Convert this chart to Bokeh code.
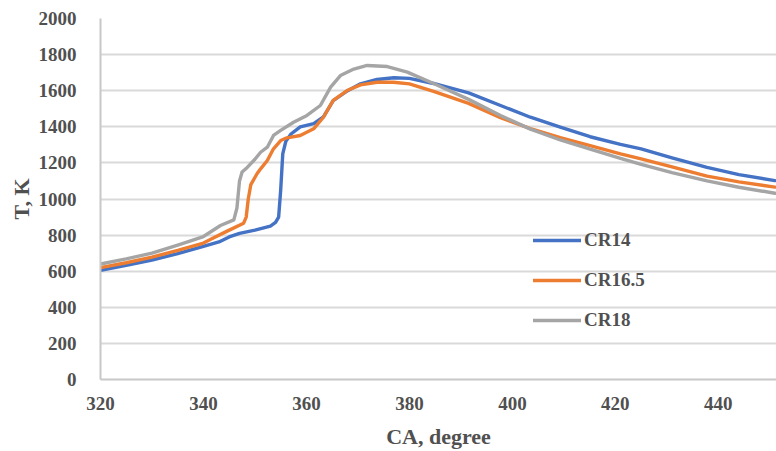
from bokeh.plotting import figure
from bokeh.models import Range1d, FixedTicker, Legend, LegendItem
from bokeh.embed import file_html
from bokeh.resources import INLINE

# ---- data ----
ca_cr14 = [320, 325, 330, 335, 340, 343, 345, 347, 350, 353, 354, 354.6, 355, 355.4, 356, 357,
           358.8, 361.4, 363.3, 365.2, 368, 370.5, 373.7, 377, 380, 384.7, 391.5, 397.7, 403.5,
           409.3, 415.1, 421, 425, 431, 437.8, 444, 451]
t_cr14 = [605, 632, 662, 697, 737, 762, 790, 810, 828, 850, 870, 900, 1050, 1250, 1320, 1360,
          1400, 1418, 1455, 1545, 1600, 1638, 1662, 1672, 1668, 1640, 1588, 1518, 1453,
          1398, 1345, 1303, 1278, 1228, 1175, 1135, 1102]

ca_cr165 = [320, 325, 330, 335, 340, 342, 344.6, 347.8, 348.3, 348.7, 349.2, 350.4, 351.1, 352.4,
            353.6, 355, 356.2, 358.8, 361.4, 363.3, 365.2, 367.9, 370.5, 373.7, 376.9, 380,
            384.7, 391.5, 397.7, 403.5, 409.3, 415.1, 421, 425, 431, 437.8, 444, 451]
t_cr165 = [620, 647, 678, 715, 756, 785, 822, 866, 900, 1000, 1080, 1140, 1167, 1213,
           1278, 1324, 1339, 1352, 1389, 1453, 1546, 1601, 1632, 1647, 1647, 1638,
           1596, 1530, 1450, 1390, 1340, 1296, 1250, 1222, 1178, 1127, 1095, 1066]

ca_cr18 = [320, 325, 330, 335, 340, 343.3, 345.9, 346.5, 347, 347.5, 348.5, 350, 351.1, 352.4,
           353.6, 355, 357.5, 360.1, 362.7, 364.7, 366.6, 369.2, 371.8, 375.7, 379.6, 384.7,
           391.5, 397.7, 403.5, 409.3, 415.1, 421, 425, 431, 437.8, 444, 451]
t_cr18 = [640, 668, 700, 745, 792, 853, 884, 950, 1100, 1150, 1175, 1220, 1259, 1287,
          1352, 1380, 1425, 1463, 1518, 1620, 1684, 1720, 1740, 1734, 1703, 1640,
          1552, 1463, 1387, 1327, 1276, 1225, 1192, 1146, 1100, 1065, 1032]

series_names = ["CR14", "CR16.5", "CR18"]
series_colors = ["#4472C4", "#ED7D31", "#A5A5A5"]
x_ticks = [320, 340, 360, 380, 400, 420, 440]
y_ticks = [0, 200, 400, 600, 800, 1000, 1200, 1400, 1600, 1800, 2000]

FONT = "Liberation Serif"
TXT = "#505050"

p = figure(frame_width=676, frame_height=361, output_backend="svg", toolbar_location=None,
           x_range=Range1d(320, 451.3), y_range=Range1d(0, 2000),
           min_border_left=100, min_border_right=0, min_border_top=18, min_border_bottom=72)
p.outline_line_color = None
p.background_fill_color = "white"
p.border_fill_color = "white"

renderers = []
for xs, ys, c in zip([ca_cr14, ca_cr165, ca_cr18], [t_cr14, t_cr165, t_cr18], series_colors):
    r = p.line(xs, ys, line_color=c, line_width=3.4, line_join="round", line_cap="round")
    renderers.append(r)

p.xaxis.ticker = FixedTicker(ticks=x_ticks)
p.yaxis.ticker = FixedTicker(ticks=y_ticks)
for ax in (p.xaxis, p.yaxis):
    ax.major_tick_line_color = None
    ax.minor_tick_line_color = None
    ax.axis_line_color = "#C8C8C8"
    ax.axis_line_width = 2
    ax.major_label_text_font = FONT
    ax.major_label_text_font_style = "bold"
    ax.major_label_text_font_size = "19px"
    ax.major_label_text_color = TXT
    ax.axis_label_text_font = FONT
    ax.axis_label_text_font_style = "bold"
    ax.axis_label_text_font_size = "22px"
    ax.axis_label_text_color = TXT

p.xaxis.axis_label = "CA, degree"
p.yaxis.axis_label = "T, K"
p.yaxis.major_label_standoff = 18
p.xaxis.major_label_standoff = 11
p.xaxis.axis_label_standoff = 11
p.yaxis.axis_label_standoff = 2

p.xgrid.grid_line_color = None
p.ygrid.grid_line_color = "#D9D9D9"
p.ygrid.grid_line_width = 2

legend = Legend(items=[LegendItem(label=n, renderers=[r]) for n, r in zip(series_names, renderers)],
                location=(433, 48))
legend.glyph_width = 48
legend.glyph_height = 20
legend.label_height = 20
legend.spacing = 18
legend.padding = 0
legend.margin = 0
legend.label_standoff = 3
legend.border_line_color = None
legend.background_fill_alpha = 0
legend.label_text_font = FONT
legend.label_text_font_style = "bold"
legend.label_text_font_size = "19px"
legend.label_text_color = TXT
p.add_layout(legend)

open("out.html", "w").write(file_html(p, INLINE))
